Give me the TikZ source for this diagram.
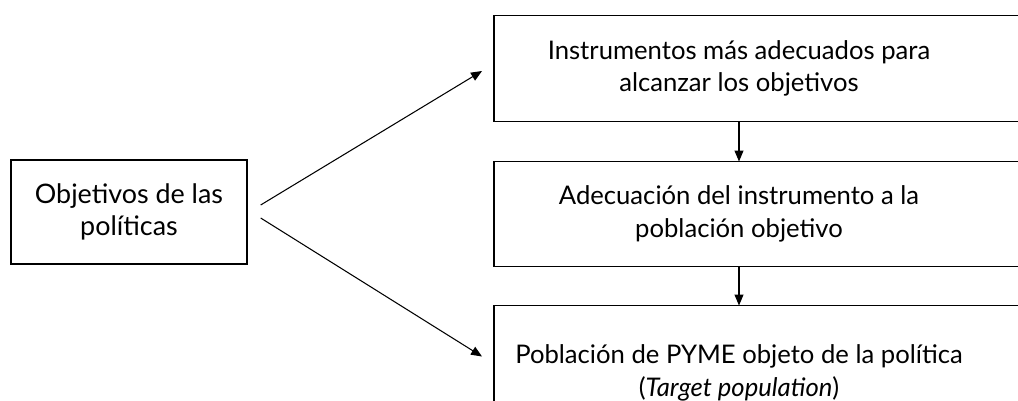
\documentclass[tikz,border=0pt]{standalone}
\usepackage{fontspec}
\setmainfont{Lato}
\usetikzlibrary{positioning}
\usetikzlibrary{arrows.meta}
\tikzset{every picture/.style={semithick, >={Triangle[length=2.2mm,width=1.8mm]}}}
\tikzset{
  leftbox/.style={draw=black, line width=0.8pt, align=center, minimum width=4.72cm, minimum height=2.08cm, font=\fontsize{15.3}{18.6}\selectfont},
  stepbox/.style={align=center, font=\fontsize{14.6}{18.4}\selectfont},
  boxline/.style={line width=0.8pt}
}

\begin{document}
\begin{tikzpicture}[x=0.02cm, y=0.02cm]
        \clip (0,0) rectangle (1018,401);
        \node[leftbox] (obj) at (129,189) {Objetivos de las\\políticas};
        \node[stepbox, minimum height=2.1cm] (instr) at (739,332.5) {Instrumentos más adecuados para\\alcanzar los objetivos};
        \node[stepbox, minimum height=2.08cm, below=0.8cm of instr] (adec) {Adecuación del instrumento a la\\población objetivo};
        \node[stepbox, minimum height=2.68cm, below=0.78cm of adec] (target) {Población de PYME objeto de la política\\(\textit{Target population})};
        % boxes run past the right edge
        \foreach \n in {instr,adec,target}
            \draw[boxline] ([xshift=6cm]\n.north) -- ([xshift=-4.9cm]\n.north) -- ([xshift=-4.9cm]\n.south) -- ([xshift=6cm]\n.south);
        \draw[->] ([xshift=0.26cm,yshift=0.14cm]obj.east) -- ([xshift=-5.14cm,yshift=-0.05cm]instr.center);
        \draw[->] ([xshift=0.26cm,yshift=-0.12cm]obj.east) -- ([xshift=-5.14cm,yshift=-1.02cm]target.north);
        \draw[->] (instr) -- (adec);
        \draw[->] (adec) -- (target);
    \end{tikzpicture}
\end{document}
